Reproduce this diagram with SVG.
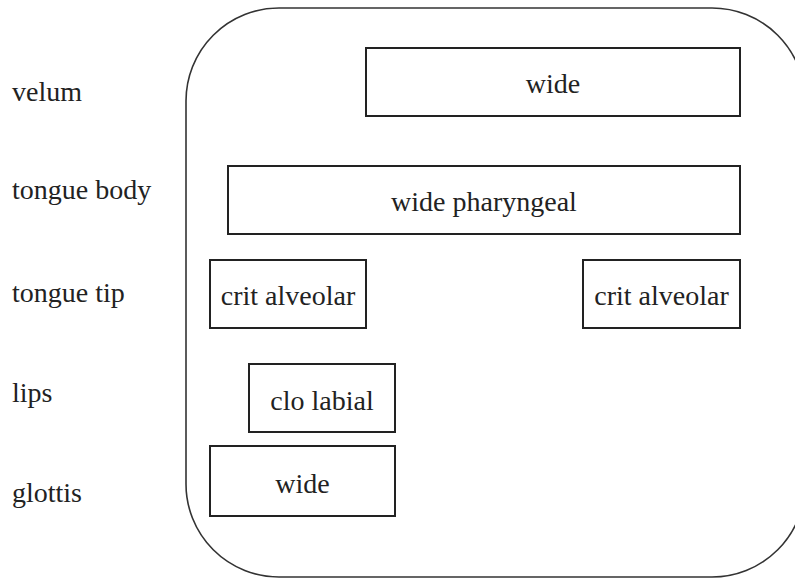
<svg xmlns="http://www.w3.org/2000/svg" width="795" height="578" viewBox="0 0 795 578">
<style>
text{font-size:28px;fill:#222}
.box rect{fill:#fff;stroke:#222;stroke-width:2}
.box text{text-anchor:middle}
</style>
<rect width="795" height="578" fill="#fff"/>
<g id="frame"><rect x="186" y="8" width="619" height="569" rx="93" ry="93" fill="none" stroke="#333" stroke-width="1.6"/></g>
<g font-family="'Liberation Serif', Tinos, 'Times New Roman', Times, 'DejaVu Serif', serif">
<g id="labels">
<text x="12" y="101">velum</text>
<text x="12" y="199">tongue body</text>
<text x="12" y="302">tongue tip</text>
<text x="12" y="402">lips</text>
<text x="12" y="502">glottis</text>
</g>
<g id="velum-wide" class="box"><rect x="366" y="48" width="374" height="68"/><text x="553" y="93">wide</text></g>
<g id="tb-wide-pharyngeal" class="box"><rect x="228" y="166" width="512" height="68"/><text x="484" y="211">wide pharyngeal</text></g>
<g id="tt-crit-1" class="box"><rect x="210" y="260" width="156" height="68"/><text x="288" y="305">crit alveolar</text></g>
<g id="tt-crit-2" class="box"><rect x="583" y="260" width="157" height="68"/><text x="661.5" y="305">crit alveolar</text></g>
<g id="lips-clo" class="box"><rect x="249" y="364" width="146" height="68"/><text x="322" y="410">clo labial</text></g>
<g id="glottis-wide" class="box"><rect x="210" y="446" width="185" height="70"/><text x="302.5" y="493">wide</text></g>
</g>
<g id="connectors"></g>
</svg>
